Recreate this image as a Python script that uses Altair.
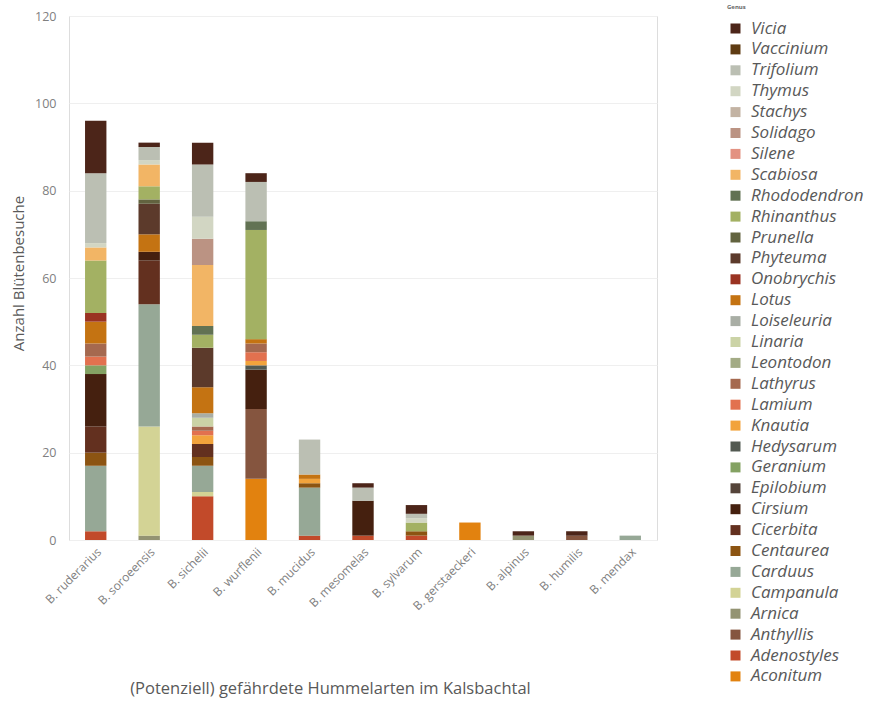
import altair as alt
import pandas as pd

species = ["B. ruderarius", "B. soroeensis", "B. sichelii", "B. wurflenii", "B. mucidus",
           "B. mesomelas", "B. sylvarum", "B. gerstaeckeri", "B. alpinus", "B. humilis", "B. mendax"]

# genus order from the bottom of each stack to the top
genera = ["Aconitum", "Adenostyles", "Anthyllis", "Arnica", "Campanula", "Carduus", "Centaurea",
          "Cicerbita", "Cirsium", "Epilobium", "Geranium", "Hedysarum", "Knautia", "Lamium",
          "Lathyrus", "Leontodon", "Linaria", "Loiseleuria", "Lotus", "Onobrychis", "Phyteuma",
          "Prunella", "Rhinanthus", "Rhododendron", "Scabiosa", "Silene", "Solidago", "Stachys",
          "Thymus", "Trifolium", "Vaccinium", "Vicia"]

colors = ["#e2820f", "#c24a2a", "#85553f", "#939372", "#d3d395", "#96a896", "#8c5412",
          "#63301f", "#45200f", "#55443a", "#84a263", "#535a52", "#f2a33c", "#e2714f",
          "#a5694f", "#a3ab85", "#cbd3a6", "#a9aea5", "#c47312", "#9a3322", "#5c3a2b",
          "#62633f", "#a3b163", "#627253", "#f2b565", "#e39282", "#bb9383", "#c3b3a3",
          "#d2d6c3", "#bbbfb3", "#5e3b12", "#4c2519"]

# values per genus, one per species (in the order of `species`)
Aconitum     = [0, 0, 0, 14, 0, 0, 0, 4, 0, 0, 0]
Adenostyles  = [2, 0, 10, 0, 1, 1, 1, 0, 0, 0, 0]
Anthyllis    = [0, 0, 0, 16, 0, 0, 0, 0, 0, 1, 0]
Arnica       = [0, 1, 0, 0, 0, 0, 0, 0, 1, 0, 0]
Campanula    = [0, 25, 1, 0, 0, 0, 0, 0, 0, 0, 0]
Carduus      = [15, 28, 6, 0, 11, 0, 0, 0, 0, 0, 1]
Centaurea    = [3, 0, 2, 0, 1, 0, 1, 0, 0, 0, 0]
Cicerbita    = [6, 10, 3, 0, 0, 0, 0, 0, 0, 0, 0]
Cirsium      = [12, 2, 0, 9, 0, 8, 0, 0, 0, 0, 0]
Epilobium    = [0, 0, 0, 0, 0, 0, 0, 0, 0, 0, 0]
Geranium     = [2, 0, 0, 0, 0, 0, 0, 0, 0, 0, 0]
Hedysarum    = [0, 0, 0, 1, 0, 0, 0, 0, 0, 0, 0]
Knautia      = [0, 0, 2, 1, 1, 0, 0, 0, 0, 0, 0]
Lamium       = [2, 0, 1, 2, 0, 0, 0, 0, 0, 0, 0]
Lathyrus     = [3, 0, 1, 2, 0, 0, 0, 0, 0, 0, 0]
Leontodon    = [0, 0, 0, 0, 0, 0, 0, 0, 0, 0, 0]
Linaria      = [0, 0, 2, 0, 0, 0, 0, 0, 0, 0, 0]
Loiseleuria  = [0, 0, 1, 0, 0, 0, 0, 0, 0, 0, 0]
Lotus        = [5, 4, 6, 1, 1, 0, 0, 0, 0, 0, 0]
Onobrychis   = [2, 0, 0, 0, 0, 0, 0, 0, 0, 0, 0]
Phyteuma     = [0, 7, 9, 0, 0, 0, 0, 0, 0, 0, 0]
Prunella     = [0, 1, 0, 0, 0, 0, 0, 0, 0, 0, 0]
Rhinanthus   = [12, 3, 3, 25, 0, 0, 2, 0, 0, 0, 0]
Rhododendron = [0, 0, 2, 2, 0, 0, 0, 0, 0, 0, 0]
Scabiosa     = [3, 5, 14, 0, 0, 0, 0, 0, 0, 0, 0]
Silene       = [0, 0, 0, 0, 0, 0, 0, 0, 0, 0, 0]
Solidago     = [0, 0, 6, 0, 0, 0, 0, 0, 0, 0, 0]
Stachys      = [0, 0, 0, 0, 0, 0, 0, 0, 0, 0, 0]
Thymus       = [1, 1, 5, 0, 0, 0, 1, 0, 0, 0, 0]
Trifolium    = [16, 3, 12, 9, 8, 3, 1, 0, 0, 0, 0]
Vaccinium    = [0, 0, 0, 0, 0, 0, 0, 0, 0, 0, 0]
Vicia        = [12, 1, 5, 2, 0, 1, 2, 0, 1, 1, 0]

values = {
    "Aconitum": Aconitum, "Adenostyles": Adenostyles, "Anthyllis": Anthyllis, "Arnica": Arnica,
    "Campanula": Campanula, "Carduus": Carduus, "Centaurea": Centaurea, "Cicerbita": Cicerbita,
    "Cirsium": Cirsium, "Epilobium": Epilobium, "Geranium": Geranium, "Hedysarum": Hedysarum,
    "Knautia": Knautia, "Lamium": Lamium, "Lathyrus": Lathyrus, "Leontodon": Leontodon,
    "Linaria": Linaria, "Loiseleuria": Loiseleuria, "Lotus": Lotus, "Onobrychis": Onobrychis,
    "Phyteuma": Phyteuma, "Prunella": Prunella, "Rhinanthus": Rhinanthus,
    "Rhododendron": Rhododendron, "Scabiosa": Scabiosa, "Silene": Silene, "Solidago": Solidago,
    "Stachys": Stachys, "Thymus": Thymus, "Trifolium": Trifolium, "Vaccinium": Vaccinium,
    "Vicia": Vicia,
}

rows = []
for gi, g in enumerate(genera):
    for si, s in enumerate(species):
        v = values[g][si]
        if v > 0:
            rows.append({"species": s, "genus": g, "count": v, "idx": gi})
df = pd.DataFrame(rows)

legend_domain = list(reversed(genera))
legend_range = list(reversed(colors))

FONT = "Open Sans"
GREY = "#808080"

chart = alt.Chart(df).mark_bar().encode(
    x=alt.X("species:N", sort=species,
            scale=alt.Scale(paddingInner=0.6, paddingOuter=0.3),
            axis=alt.Axis(title="(Potenziell) gefährdete Hummelarten im Kalsbachtal",
                          labelAngle=-45, labelAlign="right", labelBaseline="top",
                          labelPadding=6,
                          labelFontSize=12, labelColor=GREY, labelFont=FONT,
                          ticks=False, domain=False, grid=False, labelOverlap=False,
                          titleFont=FONT, titleFontSize=16.5, titleFontWeight="normal",
                          titleColor="#595959", titleX=261, titleY=153,
                          titleAlign="center", titleBaseline="alphabetic")),
    y=alt.Y("count:Q", stack="zero",
            scale=alt.Scale(domain=[0, 120], nice=False),
            axis=alt.Axis(title="Anzahl Blütenbesuche", values=[0, 20, 40, 60, 80, 100, 120],
                          labelFontSize=12.5, labelColor=GREY, labelFont=FONT, labelPadding=13,
                          ticks=False, domain=False, grid=True, gridColor="#efefef",
                          titleFont=FONT, titleFontSize=15, titleFontWeight="normal",
                          titleColor="#595959", titleX=-51, titleY=257, titleAlign="center",
                          titleBaseline="middle")),
    color=alt.Color("genus:N",
                    scale=alt.Scale(domain=legend_domain, range=legend_range),
                    legend=alt.Legend(title="Genus", orient="none", legendX=658, legendY=-12,
                                      titleFontSize=6, titleColor="#666666", titleFont=FONT,
                                      titlePadding=10,
                                      symbolType="square", symbolSize=100, symbolStrokeWidth=0,
                                      symbolOpacity=1, symbolLimit=0,
                                      labelFont=FONT, labelFontStyle="italic",
                                      labelFontSize=17,
                                      labelColor="#595959", labelOffset=7, rowPadding=2.9,
                                      labelLimit=200, values=legend_domain)),
    order=alt.Order("idx:Q", sort="ascending"),
).properties(
    width=588, height=524,
    autosize=alt.AutoSizeParams(type="none"),
    padding={"left": 69, "top": 16, "right": 216, "bottom": 170},
).configure_view(strokeWidth=0).configure_axis(domain=False).configure(background="white")

chart.save("out.html", embed_options={"renderer": "svg", "actions": False})
